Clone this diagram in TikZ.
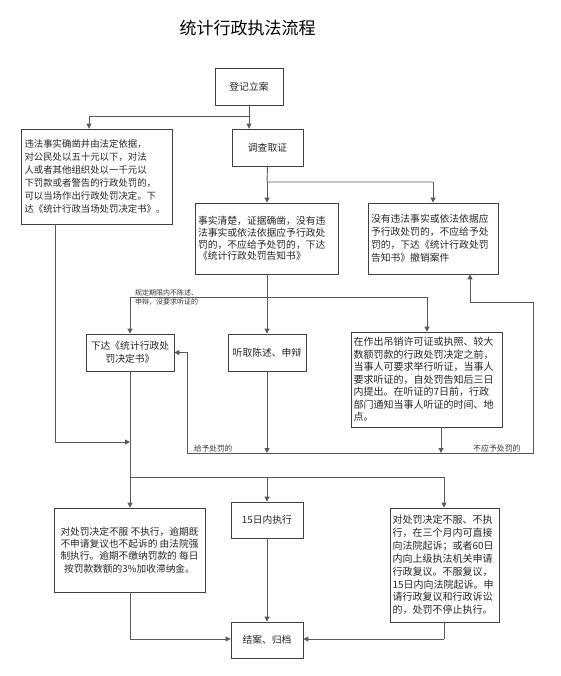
\documentclass[tikz,border=0pt]{standalone}
\usepackage{fontspec}
\newfontfamily\cjk{Noto Sans CJK SC}
\usetikzlibrary{arrows.meta}

\begin{document}
\begin{tikzpicture}[x=1pt,y=-1pt,
  box/.style={draw=black!75,line width=0.8pt,inner sep=0pt,align=center,text=black!85,
    font=\cjk\fontsize{9.8}{12.8}\selectfont},
  link/.style={draw=black!65,line width=0.9pt},
  arr/.style={link,-{Triangle[width=5pt,length=5pt]}},
  note/.style={inner sep=0pt,anchor=west,align=left,text=black!80}]
 \useasboundingbox (0,0) rectangle (561,676);

 \node (title) at (247.5,28) {\cjk\fontsize{17}{20}\selectfont 统计行政执法流程}; % 表題

 % 上段
 \node [box,minimum width=68,minimum height=37] (reg) at (249,86.5) {登记立案};
 \node [box,minimum width=71,minimum height=37] (inv) at (267.5,147.5) {调查取证};
 \node [box,minimum width=151,minimum height=95,text width=144,align=left,
   font=\cjk\fontsize{9.4}{13}\selectfont] (onsite) at (96.5,176.5)
   {违法事实确凿并由法定依据，\\对公民处以五十元以下，对法\\人或者其他组织处以一千元以\\下罚款或者警告的行政处罚的，\\可以当场作出行政处罚决定。下\\达《统计行政当场处罚决定书》。};
 \node [box,minimum width=143,minimum height=71,text width=137,align=left,
   font=\cjk\fontsize{9.8}{11.8}\selectfont] (notice) at (266.5,238.5)
   {事实清楚，证据确凿，没有违\\法事实或依法依据应予行政处\\罚的，不应给予处罚的，下达\\《统计行政处罚告知书》};
 \node [box,minimum width=130,minimum height=71,text width=124,align=left,
   font=\cjk\fontsize{9.8}{13}\selectfont] (nofact) at (433,238.5)
   {没有违法事实或依法依据应\\予行政处罚的，不应给予处\\罚的，下达《统计行政处罚\\告知书》撤销案件};

 % 中段
 \node [box,minimum width=88,minimum height=37] (decide) at (130,352.5) {下达《统计行政处\\罚决定书》};
 \node [box,minimum width=78,minimum height=37] (hear) at (267,352.5) {听取陈述、申辩};
 \node [box,minimum width=151,minimum height=95,text width=146,align=left,
   font=\cjk\fontsize{10}{12.5}\selectfont] (hearing) at (426.5,379.5)
   {在作出吊销许可证或执照、较大\\数额罚款的行政处罚决定之前，\\当事人可要求举行听证，当事人\\要求听证的，自处罚告知后三日\\内提出。在听证的7日前，行政\\部门通知当事人听证的时间、地\\点。};

 % 下段
 \node [box,minimum width=151,minimum height=84,font=\cjk\fontsize{9.7}{12.3}\selectfont] (enforce) at (129.5,550)
   {对处罚决定不服\ 不执行，逾期既\\不申请复议也不起诉的\ 由法院强\\制执行。逾期不缴纳罚款的\ 每日\\按罚款数额的3\%加收滞纳金。};
 \node [box,minimum width=72,minimum height=36] (exec) at (267,520) {15日内执行};
 \node [box,minimum width=109,minimum height=114,text width=104,align=left,
   font=\cjk\fontsize{10}{12.9}\selectfont] (review) at (444.5,565)
   {对处罚决定不服、不执\\行，在三个月内可直接\\向法院起诉；或者60日\\内向上级执法机关申请\\行政复议。不服复议，\\15日内向法院起诉。申\\请行政复议和行政诉讼\\的，处罚不停止执行。};
 \node [box,minimum width=72,minimum height=36] (close) at (267,640) {结案、归档};

 % 小さな注記
 \node [note,font=\cjk\fontsize{7}{9.5}\selectfont] (nolabel) at (135,297.5) {规定期限内不陈述、\\申辩，没要求听证的};
 \node [note,font=\cjk\fontsize{7.6}{9}\selectfont] (givelabel) at (194,449) {给予处罚的};
 \node [note,font=\cjk\fontsize{7.9}{9}\selectfont] (notlabel) at (473,448) {不应予处罚的};

 % 分岐点
 \coordinate (r1) at (249,116);
 \coordinate (r2) at (89,116);
 \coordinate (i1) at (267,182);
 \coordinate (i2) at (433,182);
 \coordinate (n1) at (130,297);
 \coordinate (n2) at (427,297);
 \coordinate (s1) at (55,442);
 \coordinate (s2) at (130,442);
 \coordinate (b1) at (187,453);
 \coordinate (b2) at (533,453);
 \coordinate (b3) at (533,302);
 \coordinate (b4) at (470,302);
 \coordinate (d1) at (130,477);
 \coordinate (d2) at (444,477);
 \coordinate (e1) at (130,639);
 \coordinate (e2) at (444,639);

 % 接続線
 \draw [link] (reg.south) -- (r1) -- (r2);
 \draw [arr] (r1) -- (inv.north -| r1);
 \draw [arr] (r2) -- (onsite.north -| r2);
 \draw [link] (inv.south) -- (i1) -- (i2);
 \draw [arr] (i1) -- (notice.north -| i1);
 \draw [arr] (i2) -- (nofact.north -| i2);
 \draw [arr] (notice.south -| hear) -- (hear.north);
 \draw [link] (n1) -- (n2);
 \draw [arr] (n1) -- (decide.north -| n1);
 \draw [arr] (n2) -- (hearing.north -| n2);
 \draw [link] (onsite.south -| s1) -- (s1);
 \draw [arr] (s1) -- (s2);
 \draw [arr] (b1) -- (b1 |- decide.east) -- (decide.east);
 \draw [link] (b1) -- (b2) -- (b3) -- (b4);
 \draw [arr] (b4) -- (nofact.south -| b4);
 \draw [arr] (hear.south) -- (hear.south |- b1);
 \draw [arr] (hearing.south -| 441,0) -- (441,453);
 \draw [link] (decide.south) -- (d1) -- (d2);
 \draw [arr] (d1) -- (enforce.north -| d1);
 \draw [arr] (exec.north |- d1) -- (exec.north);
 \draw [arr] (d2) -- (review.north -| d2);
 \draw [arr] (exec.south) -- (close.north);
 \draw [link] (enforce.south -| e1) -- (e1);
 \draw [arr] (e1) -- (close.west |- e1);
 \draw [link] (review.south -| e2) -- (e2);
 \draw [arr] (e2) -- (close.east |- e2);
\end{tikzpicture}
\end{document}
